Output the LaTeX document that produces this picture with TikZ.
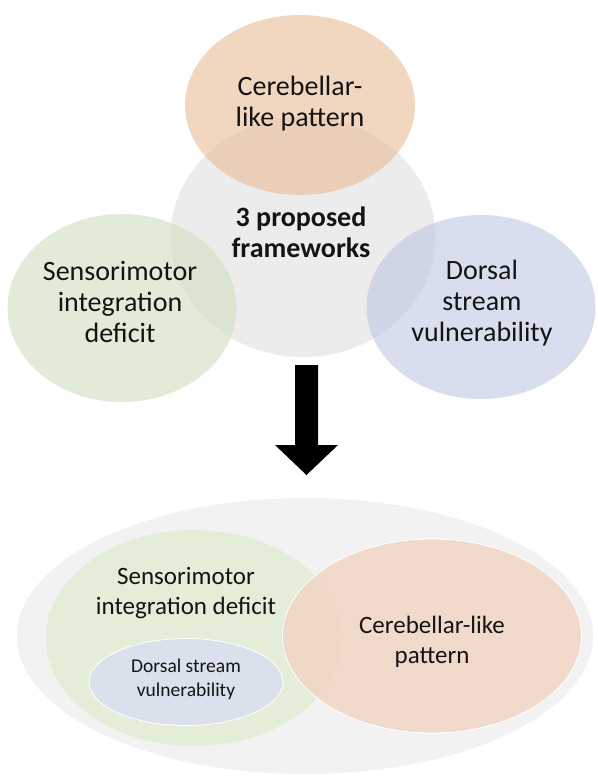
\documentclass[tikz,border=0pt]{standalone}
\usepackage{fontspec}
\setmainfont{Carlito}
\usetikzlibrary{shapes.geometric}

% palette
\definecolor{hubgray}{RGB}{236,236,236}
\definecolor{cereb}{RGB}{233,187,150}
\definecolor{senso}{RGB}{208,223,190}
\definecolor{dorsal}{RGB}{190,200,227}
\definecolor{basegray}{RGB}{242,242,242}
\definecolor{sensolow}{RGB}{227,237,215}
\definecolor{cereblow}{RGB}{241,213,194}
\definecolor{dorsallow}{RGB}{218,224,236}
\definecolor{ink}{RGB}{20,20,20}

\begin{document}
\begin{tikzpicture}[x=1pt, y=-1pt,
  blob/.style={ellipse, inner sep=0pt, draw=none},
  bigtext/.style={align=center, inner sep=0pt, text=ink,
    font=\fontsize{28}{31}\selectfont},
  midtext/.style={align=center, inner sep=0pt, text=ink,
    font=\fontsize{25}{30}\selectfont},
  smalltext/.style={align=center, inner sep=0pt, text=ink,
    font=\fontsize{19.5}{24}\selectfont}]

\useasboundingbox (0,0) rectangle (597,776);
\fill[white] (0,0) rectangle (597,776);

% --- upper group: three frameworks around a hub ---
\node[blob, fill=hubgray, minimum width=265pt, minimum height=240pt] (hub) at (303,237) {};
\node[blob, fill=cereb, fill opacity=0.6, minimum width=230pt, minimum height=180pt] (cer) at (300,105) {};
\node[blob, fill=senso, fill opacity=0.6, minimum width=229pt, minimum height=188pt] (sen) at (122,308) {};
\node[blob, fill=dorsal, fill opacity=0.6, minimum width=229pt, minimum height=184pt] (dor) at (481,307) {};

\node[bigtext] (cerT) at (300,104) {Cerebellar-\\like pattern};
\node[bigtext, font=\fontsize{28}{31}\selectfont\bfseries] (hubT) at (301,232) {3 proposed\\frameworks};
\node[bigtext] (senT) at (120,302) {Sensorimotor\\integration\\deficit};
\node[bigtext] (dorT) at (482,303) {Dorsal\\stream\\vulnerability};

% --- block arrow between the two groups ---
\coordinate (arrTop) at (306.5,365);
\coordinate (arrTip) at (306.5,475);
\fill[black] (295,365) -- (318,365) -- (318,445) -- (338,445) -- (arrTip)
  -- (275,445) -- (295,445) -- cycle;

% --- lower group: nested model ---
\node[blob, fill=basegray, minimum width=576pt, minimum height=276pt] (base) at (305,636) {};
\node[blob, fill=sensolow, minimum width=296pt, minimum height=216pt] (senL) at (194,638) {};
\node[blob, fill=cereblow, fill opacity=0.8, draw=white, line width=0.8pt,
  minimum width=299pt, minimum height=194pt] (cerL) at (432,636) {};
\node[blob, fill=dorsallow, draw=white, line width=0.8pt,
  minimum width=194pt, minimum height=87pt] (dorL) at (186,682) {};

\node[midtext] (senLT) at (186,593) {Sensorimotor\\integration deficit};
\node[midtext] (cerLT) at (432,642) {Cerebellar-like\\pattern};
\node[smalltext] (dorLT) at (186,679) {Dorsal stream\\vulnerability};

\end{tikzpicture}
\end{document}
